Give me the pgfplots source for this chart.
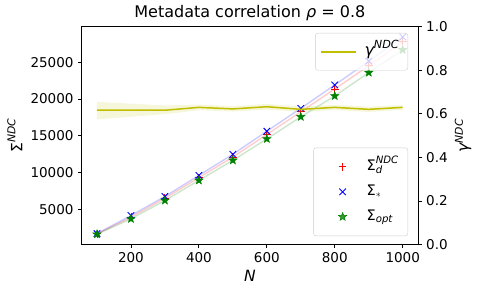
\documentclass[border=0pt]{standalone}
\usepackage{amsmath}
\usepackage{fontspec}
\setmainfont{DejaVu Sans}
\usepackage{pgfplots}
\pgfplotsset{compat=1.18}
\definecolor{oliveY}{HTML}{BFBF00}
\definecolor{mplgreen}{HTML}{008000}
\definecolor{legframe}{HTML}{CCCCCC}
\pgfdeclareplotmark{fstar}{%
  \pgfpathmoveto{\pgfpointpolar{90}{\pgfplotmarksize}}%
  \pgfpathlineto{\pgfpointpolar{126}{0.42\pgfplotmarksize}}%
  \pgfpathlineto{\pgfpointpolar{162}{\pgfplotmarksize}}%
  \pgfpathlineto{\pgfpointpolar{198}{0.42\pgfplotmarksize}}%
  \pgfpathlineto{\pgfpointpolar{234}{\pgfplotmarksize}}%
  \pgfpathlineto{\pgfpointpolar{270}{0.42\pgfplotmarksize}}%
  \pgfpathlineto{\pgfpointpolar{306}{\pgfplotmarksize}}%
  \pgfpathlineto{\pgfpointpolar{342}{0.42\pgfplotmarksize}}%
  \pgfpathlineto{\pgfpointpolar{18}{\pgfplotmarksize}}%
  \pgfpathlineto{\pgfpointpolar{54}{0.42\pgfplotmarksize}}%
  \pgfpathclose
  \pgfusepathqfillstroke}
\newcommand{\itx}[1]{\text{\itshape #1}}
\begin{document}
\fontsize{13.5pt}{16pt}\selectfont
\begin{tikzpicture}
\path[use as bounding box] (-81.7pt,-47.5pt) rectangle (396.3pt,244.5pt);
\begin{axis}[
  at={(0pt,0pt)}, anchor=south west,
  width=336.3pt, height=218pt, scale only axis,
  xmin=55, xmax=1045, ymin=200, ymax=29850,
  xtick={200,400,600,800,1000},
  ytick={5000,10000,15000,20000,25000},
  scaled y ticks=false,
  xtick pos=bottom, ytick pos=left,
  axis line style={black, line width=0.8pt},
  tick align=outside, major tick length=3.5pt,
  tick style={black, line width=0.8pt},
  ticklabel style={font=\fontsize{13.5pt}{16pt}\selectfont},
  /pgf/number format/assume math mode=true,
  /pgf/number format/1000 sep={},
  xlabel={\textit{N}}, ylabel={$\text{Σ}^{\itx{NDC}}$},
  label style={font=\fontsize{15.5pt}{18pt}\selectfont},
  xlabel style={yshift=2pt},
  ylabel style={yshift=-1pt},
  title={Metadata correlation \textit{ρ} = 0.8},
  title style={font=\fontsize{16pt}{19pt}\selectfont, yshift=-5pt},
  legend style={at={(1,0)}, anchor=south east, xshift=-10pt, yshift=8.5pt,
    draw=legframe, rounded corners=2.5pt, fill=white, fill opacity=0.8, text opacity=1,
    font=\fontsize{14.5pt}{17pt}\selectfont, row sep=0pt, column sep=4pt,
    inner xsep=4pt, inner ysep=6.5pt,
    nodes={text height=13pt, text depth=6pt, inner xsep=5pt, inner ysep=3pt}},
  legend cell align=left,
  legend image code/.code={\path[draw=none,fill=none] (0pt,-3pt) rectangle (40pt,3pt);
    \draw[mark repeat=2,mark phase=2,#1] plot coordinates {(0pt,0pt) (25pt,0pt) (40pt,0pt)};},
]
\addplot[red, opacity=0.2, line width=1.4pt, forget plot] coordinates {
(100,1640) (200,3910) (300,6500) (400,9290) (500,12100) (600,15160) (700,18250) (800,21350) (900,24500) (1000,27810)};
\addplot[blue, opacity=0.2, line width=1.4pt, forget plot] coordinates {
(100,1680) (200,4140) (300,6735) (400,9604) (500,12470) (600,15610) (700,18720) (800,21900) (900,25140) (1000,28415)};
\addplot[mplgreen, opacity=0.2, line width=1.4pt, forget plot] coordinates {
(100,1600) (200,3690) (300,6190) (400,8920) (500,11650) (600,14560) (700,17570) (800,20400) (900,23580) (1000,26680)};
\addplot[red, only marks, mark=+, mark size=3.8pt, line width=0.9pt] coordinates {
(100,1640) (200,3910) (300,6500) (400,9290) (500,12100) (600,15160) (700,18250) (800,21350) (900,24500) (1000,27810)};
\addlegendentry{$\text{Σ}^{\itx{NDC}}_{\itx{d}}$}
\addplot[blue, only marks, mark=x, mark size=4.6pt, line width=0.9pt] coordinates {
(100,1680) (200,4140) (300,6735) (400,9604) (500,12470) (600,15610) (700,18720) (800,21900) (900,25140) (1000,28415)};
\addlegendentry{$\text{Σ}_{*}$}
\addplot[mplgreen, only marks, mark=fstar, mark size=4.3pt, line width=0.5pt] coordinates {
(100,1600) (200,3690) (300,6190) (400,8920) (500,11650) (600,14560) (700,17570) (800,20400) (900,23580) (1000,26680)};
\addlegendentry{$\text{Σ}_{\itx{opt}}$}
\end{axis}
\begin{axis}[
  at={(0pt,0pt)}, anchor=south west,
  width=336.3pt, height=218pt, scale only axis,
  xmin=55, xmax=1045, ymin=0, ymax=1,
  axis x line=none, axis y line*=right,
  axis line style={black, line width=0.8pt},
  ytick={0,0.2,0.4,0.6,0.8,1.0},
  yticklabel style={/pgf/number format/.cd, fixed, fixed zerofill, precision=1},
  tick align=outside, major tick length=3.5pt,
  tick style={black, line width=0.8pt},
  ticklabel style={font=\fontsize{13.5pt}{16pt}\selectfont},
  /pgf/number format/assume math mode=true,
  ylabel={$\text{\itshape γ}^{\itx{NDC}}$},
  label style={font=\fontsize{15.5pt}{18pt}\selectfont},
  ylabel style={yshift=2pt},
  legend style={at={(1,1)}, anchor=north east, xshift=-10pt, yshift=-6.5pt,
    draw=legframe, rounded corners=2.5pt, fill=white, fill opacity=0.8, text opacity=1,
    font=\fontsize{16pt}{19pt}\selectfont, column sep=4pt, inner xsep=5pt, inner ysep=3pt,
    nodes={text height=13pt, text depth=6pt, inner xsep=3.5pt, inner ysep=6pt}},
  legend image code/.code={\draw[#1, draw=oliveY, line width=1.6pt] (0pt,0pt) -- (35pt,0pt);},
]
\addplot[draw=none, fill=oliveY, fill opacity=0.14, forget plot] coordinates {
(100,0.654) (200,0.646) (300,0.638) (400,0.642) (500,0.634) (600,0.645) (700,0.632) (800,0.641) (900,0.632) (1000,0.640)
(1000,0.618) (900,0.608) (800,0.617) (700,0.608) (600,0.619) (500,0.610) (400,0.616) (300,0.598) (200,0.586) (100,0.574)} -- cycle;
\addplot[oliveY, line width=1.5pt] coordinates {
(100,0.616) (200,0.616) (300,0.616) (400,0.629) (500,0.622) (600,0.632) (700,0.620) (800,0.629) (900,0.620) (1000,0.629)};
\addlegendentry{$\text{\itshape γ}^{\itx{NDC}}$}
\end{axis}
\end{tikzpicture}
\end{document}
